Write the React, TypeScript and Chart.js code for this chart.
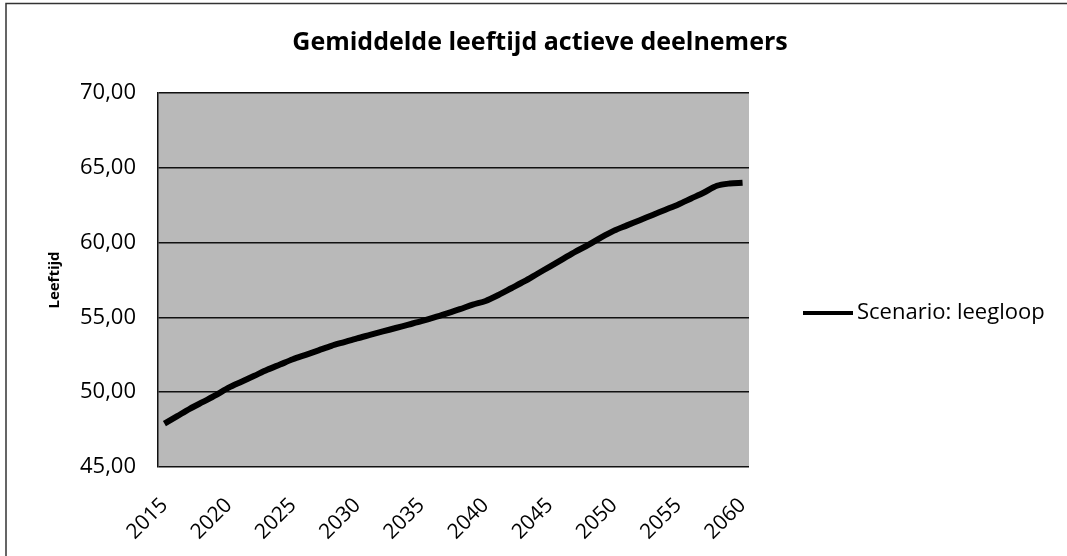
import React, { useEffect, useRef } from "react";
import { Chart, registerables } from "chart.js";

Chart.register(...registerables);

const chartTitle = "Gemiddelde leeftijd actieve deelnemers";
const yAxisTitle = "Leeftijd";
const seriesLabel = "Scenario: leegloop";

const years = [
  "2015", "2016", "2017", "2018", "2019", "2020", "2021", "2022", "2023", "2024",
  "2025", "2026", "2027", "2028", "2029", "2030", "2031", "2032", "2033", "2034",
  "2035", "2036", "2037", "2038", "2039", "2040", "2041", "2042", "2043", "2044",
  "2045", "2046", "2047", "2048", "2049", "2050", "2051", "2052", "2053", "2054",
  "2055", "2056", "2057", "2058", "2059", "2060",
];

const ageValues = [
  47.9, 48.4, 48.9, 49.35, 49.8, 50.3, 50.7, 51.1, 51.5, 51.85,
  52.2, 52.5, 52.8, 53.1, 53.35, 53.6, 53.83, 54.06, 54.29, 54.52,
  54.75, 55.0, 55.27, 55.55, 55.85, 56.1, 56.5, 56.95, 57.4, 57.9,
  58.4, 58.9, 59.4, 59.85, 60.35, 60.8, 61.15, 61.5, 61.85, 62.2,
  62.55, 62.95, 63.35, 63.8, 63.95, 64.0,
];

const shownYearLabels = ["2015", "2020", "2025", "2030", "2035", "2040", "2045", "2050", "2055", "2060"];

const yMin = 45;
const yMax = 70;
const yStep = 5;

const FONT = "'Open Sans', 'Liberation Sans', sans-serif";

const plotBackground = {
  id: "plotBackground",
  beforeDraw(chart: any) {
    const { ctx, chartArea } = chart;
    ctx.save();
    ctx.fillStyle = "#ffffff";
    ctx.fillRect(0, 0, chart.width, chart.height);
    ctx.fillStyle = "#b9b9b9";
    ctx.fillRect(chartArea.left, chartArea.top, chartArea.right - chartArea.left, chartArea.bottom - chartArea.top);
    ctx.restore();
  },
};

const frameAndLegend = {
  id: "frameAndLegend",
  afterDraw(chart: any) {
    const { ctx } = chart;
    ctx.save();
    // outer chart frame (left + top visible)
    ctx.strokeStyle = "#333";
    ctx.lineWidth = 1.5;
    ctx.beginPath();
    ctx.moveTo(6, chart.height);
    ctx.lineTo(6, 3.5);
    ctx.lineTo(chart.width, 3.5);
    ctx.stroke();

    // legend entry
    const ds = chart.data.datasets[0];
    const y = 313;
    ctx.strokeStyle = ds.borderColor;
    ctx.lineWidth = 4;
    ctx.beginPath();
    ctx.moveTo(803, y);
    ctx.lineTo(853, y);
    ctx.stroke();
    ctx.fillStyle = "#000";
    ctx.font = `22px ${FONT}`;
    ctx.textBaseline = "middle";
    ctx.textAlign = "left";
    ctx.fillText(ds.label, 857, y);
    ctx.restore();
  },
};

export default function App() {
  const canvasRef = useRef<HTMLCanvasElement | null>(null);

  useEffect(() => {
    if (!canvasRef.current) return;
    const chart = new Chart(canvasRef.current, {
      type: "line",
      data: {
        labels: years,
        datasets: [
          {
            label: seriesLabel,
            data: ageValues,
            borderColor: "#000000",
            backgroundColor: "#000000",
            borderWidth: 6,
            pointRadius: 0,
            tension: 0.3,
            fill: false,
          },
        ],
      },
      options: {
        responsive: false,
        animation: false,
        layout: { padding: { left: 30, right: 17, top: 0, bottom: 0 } },
        plugins: {
          legend: { display: false },
          tooltip: { enabled: false },
          title: {
            display: true,
            text: chartTitle,
            color: "#000",
            font: { family: FONT, size: 25, weight: "bold", lineHeight: 1.2 },
            padding: { top: 28, bottom: 35 },
          },
        },
        scales: {
          x: {
            type: "category",
            offset: true,
            grid: { display: false, drawTicks: false },
            border: { display: false },
            ticks: {
              autoSkip: false,
              maxRotation: 45,
              minRotation: 45,
              padding: 26,
              color: "#000",
              font: { family: FONT, size: 21 },
              callback: function (this: any, value: any, index: number) {
                const lbl = years[index];
                return shownYearLabels.includes(lbl) ? lbl : "";
              },
            },
            afterFit(scale: any) {
              scale.height = 89;
            },
          },
          y: {
            min: yMin,
            max: yMax,
            grid: { color: "#111", lineWidth: 1.5, drawTicks: false },
            border: { display: true, color: "#111", width: 1.5 },
            ticks: {
              stepSize: yStep,
              padding: 22,
              color: "#000",
              font: { family: FONT, size: 22 },
              callback: (v: any) => Number(v).toFixed(2).replace(".", ","),
            },
            title: {
              display: true,
              text: yAxisTitle,
              color: "#000",
              font: { family: FONT, size: 15, weight: "bold" },
              padding: { top: 16, bottom: 0 },
            },
            afterFit(scale: any) {
              scale.width = 128;
            },
          },
          legendSpace: {
            type: "linear",
            position: "right",
            display: true,
            grid: { display: false, drawTicks: false },
            border: { display: false },
            ticks: { display: false },
            afterFit(scale: any) {
              scale.width = 301;
            },
          },
        },
      },
      plugins: [plotBackground, frameAndLegend],
    });
    return () => chart.destroy();
  }, []);

  return (
    <div style={{ position: "fixed", left: 0, top: 0, width: 1067, height: 556, background: "#fff" }}>
      <canvas ref={canvasRef} width={1067} height={556} style={{ display: "block" }} />
    </div>
  );
}
